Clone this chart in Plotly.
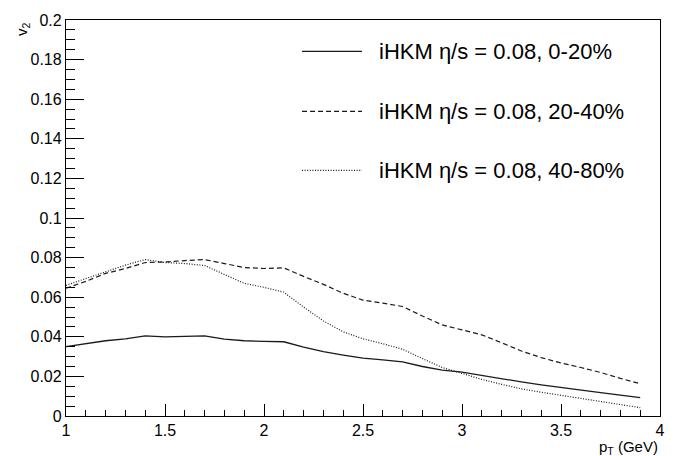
import plotly.graph_objects as go

# ---- data ----
pt = [1.0, 1.1, 1.2, 1.3, 1.4, 1.5, 1.6, 1.7, 1.8, 1.9, 2.0, 2.1, 2.2, 2.3, 2.4,
      2.5, 2.6, 2.7, 2.8, 2.9, 3.0, 3.1, 3.2, 3.3, 3.4, 3.5, 3.6, 3.7, 3.8, 3.9]

v2_0_20 = [0.0350, 0.0365, 0.0380, 0.0390, 0.0405, 0.0400, 0.0402, 0.0405, 0.0388, 0.0380,
           0.0377, 0.0375, 0.0348, 0.0325, 0.0308, 0.0292, 0.0283, 0.0273, 0.0250, 0.0232,
           0.0222, 0.0205, 0.0187, 0.0172, 0.0157, 0.0145, 0.0130, 0.0118, 0.0105, 0.0093]

v2_20_40 = [0.0645, 0.0680, 0.0720, 0.0745, 0.0775, 0.0778, 0.0785, 0.0790, 0.0770, 0.0750,
            0.0745, 0.0748, 0.0705, 0.0665, 0.0620, 0.0585, 0.0570, 0.0553, 0.0505, 0.0460,
            0.0435, 0.0410, 0.0370, 0.0328, 0.0295, 0.0268, 0.0245, 0.0220, 0.0190, 0.0163]

v2_40_80 = [0.0660, 0.0695, 0.0730, 0.0762, 0.0790, 0.0775, 0.0770, 0.0760, 0.0715, 0.0670,
            0.0650, 0.0625, 0.0550, 0.0480, 0.0425, 0.0390, 0.0365, 0.0337, 0.0290, 0.0245,
            0.0215, 0.0185, 0.0160, 0.0137, 0.0120, 0.0105, 0.0090, 0.0075, 0.0060, 0.0042]

labels = ["iHKM \u03b7/s = 0.08, 0-20%",
          "iHKM \u03b7/s = 0.08, 20-40%",
          "iHKM \u03b7/s = 0.08, 40-80%"]

x_ticks = [1, 1.5, 2, 2.5, 3, 3.5, 4]
x_ticktext = ["1", "1.5", "2", "2.5", "3", "3.5", "4"]
y_ticks = [0, 0.02, 0.04, 0.06, 0.08, 0.1, 0.12, 0.14, 0.16, 0.18, 0.2]
y_ticktext = ["0", "0.02", "0.04", "0.06", "0.08", "0.1", "0.12", "0.14", "0.16", "0.18", "0.2"]

# ---- styles ----
FONT = "Liberation Sans, Arial, Helvetica, sans-serif"
COL = "#1a1a1a"
dashes = ["solid", "5px,3px", "1px,1.6px"]
widths = [1.3, 1.2, 1.2]
series = [v2_0_20, v2_20_40, v2_40_80]

fig = go.Figure()
for ys, lab, d, w in zip(series, labels, dashes, widths):
    fig.add_trace(go.Scatter(x=pt, y=ys, mode="lines", name=lab,
                             line=dict(color=COL, width=w, dash=d),
                             showlegend=False))

# manual ROOT-like legend
leg_rows_y = [0.9206, 0.7692, 0.6203]
for lab, d, w, yy in zip(labels, dashes, widths, leg_rows_y):
    fig.add_shape(type="line", xref="paper", yref="paper",
                  x0=0.3973, x1=0.4983, y0=yy, y1=yy,
                  line=dict(color=COL, width=w, dash=d))
    fig.add_annotation(xref="paper", yref="paper", x=0.5236, y=yy,
                       xanchor="left", yanchor="middle", showarrow=False,
                       text=lab, font=dict(family=FONT, size=22, color="black"))

# axis titles
fig.add_annotation(xref="paper", yref="paper", x=-0.074, y=1.0,
                   xanchor="center", yanchor="top", textangle=-90, showarrow=False,
                   text="v<sub>2</sub>", font=dict(family=FONT, size=15, color="black"))
fig.add_annotation(xref="paper", yref="paper", x=1.0, y=-0.05,
                   xanchor="right", yanchor="top", showarrow=False,
                   text="p<sub>T</sub> (GeV)", font=dict(family=FONT, size=15, color="black"))

fig.update_xaxes(range=[1, 4], tickvals=x_ticks, ticktext=x_ticktext,
                 ticks="inside", ticklen=12, tickwidth=1, tickcolor="black",
                 minor=dict(dtick=0.1, tick0=1, ticks="inside", ticklen=6,
                            tickwidth=1, tickcolor="black", showgrid=False),
                 showline=True, linecolor="black", linewidth=1.3, mirror=True,
                 showgrid=False, zeroline=False,
                 tickfont=dict(family=FONT, size=16, color="black"))
fig.update_yaxes(range=[0, 0.2], tickvals=y_ticks, ticktext=y_ticktext,
                 ticks="inside", ticklen=18, tickwidth=1, tickcolor="black",
                 minor=dict(dtick=0.005, tick0=0, ticks="inside", ticklen=9,
                            tickwidth=1, tickcolor="black", showgrid=False),
                 showline=True, linecolor="black", linewidth=1.3, mirror=True,
                 showgrid=False, zeroline=False,
                 tickfont=dict(family=FONT, size=16, color="black"))

fig.update_layout(width=686, height=456,
                  margin=dict(l=66, r=26, t=13, b=40),
                  paper_bgcolor="white", plot_bgcolor="white",
                  showlegend=False)

fig.write_html("out.html")
